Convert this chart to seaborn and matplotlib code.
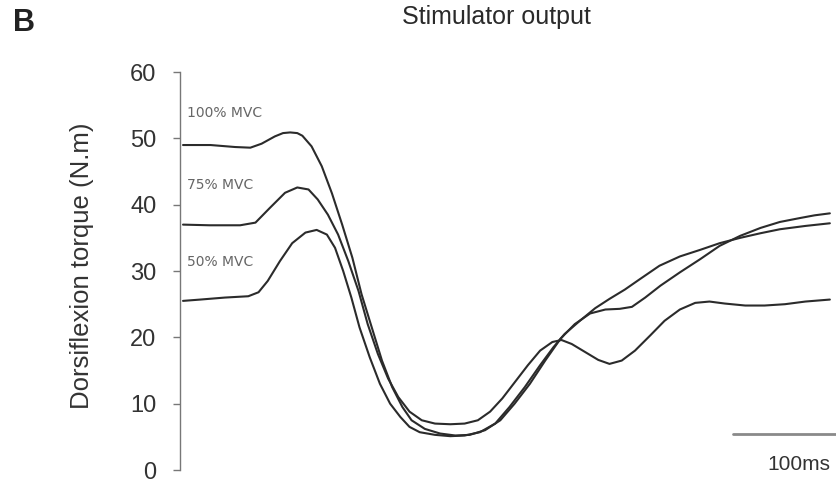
import matplotlib
matplotlib.use("Agg")
import matplotlib.pyplot as plt
import pandas as pd
import seaborn as sns

# time (ms) and dorsiflexion torque (N.m)
t_100 = [0, 27, 51, 66, 77, 90, 98, 105, 112, 117, 126, 136, 146, 156, 166, 175, 185, 195, 205, 215, 224, 237,
         252, 267, 281, 296, 311, 325, 340, 355, 370, 384, 399, 414, 428, 440, 453, 468, 487, 507, 526, 546,
         566, 585, 605, 619, 634]
v_100 = [49.0, 49.0, 48.7, 48.6, 49.2, 50.3, 50.8, 50.9, 50.8, 50.4, 48.8, 45.8, 41.7, 37.0, 32.0, 26.5, 21.5, 16.5, 12.5, 9.5, 7.5, 6.2,
         5.5, 5.2, 5.3, 6.0, 7.5, 10.0, 13.0, 16.5, 19.8, 22.0, 23.6, 24.2, 24.3, 24.6, 26.0, 27.8, 29.8, 31.8, 33.8, 35.3,
         36.5, 37.4, 38.0, 38.4, 38.7]

t_75 = [0, 26, 56, 71, 85, 100, 112, 123, 132, 142, 152, 162, 172, 181, 191, 201, 211, 222, 234, 247,
        262, 276, 289, 301, 313, 325, 338, 350, 362, 371, 381, 394, 407, 418, 430, 443, 458, 472, 487, 502,
        516, 531, 551, 570, 590, 610, 634]
v_75 = [37.0, 36.9, 36.9, 37.3, 39.5, 41.8, 42.6, 42.3, 40.8, 38.5, 35.5, 31.5, 27.0, 22.0, 17.5, 13.8, 11.0, 8.8, 7.5, 7.0,
        6.9, 7.0, 7.5, 8.8, 10.8, 13.2, 15.8, 18.0, 19.3, 19.6, 19.0, 17.8, 16.6, 16.0, 16.5, 18.0, 20.3, 22.5, 24.2, 25.2,
        25.4, 25.1, 24.8, 24.8, 25.0, 25.4, 25.7]

t_50 = [0, 17, 41, 64, 74, 83, 95, 107, 120, 131, 141, 149, 157, 165, 173, 183, 193, 203, 213, 222,
        232, 247, 262, 276, 291, 306, 320, 335, 350, 363, 374, 389, 404, 418, 433, 448, 467, 487, 507, 526,
        546, 566, 585, 610, 634]
v_50 = [25.5, 25.7, 26.0, 26.2, 26.8, 28.5, 31.5, 34.2, 35.8, 36.2, 35.5, 33.5, 30.0, 26.0, 21.5, 17.0, 13.0, 10.0, 8.0, 6.5,
        5.7, 5.3, 5.1, 5.2, 5.7, 7.0, 9.5, 12.5, 15.8, 18.5, 20.5, 22.5, 24.4, 25.8, 27.2, 28.8, 30.8, 32.2, 33.2, 34.2,
        35.0, 35.7, 36.3, 36.8, 37.2]

labels = ["100% MVC", "75% MVC", "50% MVC"]
label_y = [53.8, 43.0, 31.4]
y_ticks = [0, 10, 20, 30, 40, 50, 60]
scale_ms = [539, 641]

df = pd.concat([
    pd.DataFrame({"time": t_100, "torque": v_100, "level": labels[0]}),
    pd.DataFrame({"time": t_75, "torque": v_75, "level": labels[1]}),
    pd.DataFrame({"time": t_50, "torque": v_50, "level": labels[2]}),
])

sns.set_style("white")
plt.rcParams["font.family"] = ["Liberation Sans", "DejaVu Sans"]

fig = plt.figure(figsize=(8.37, 4.87), dpi=100)
ax = fig.add_axes([0.215, 0.0349, 0.785, 0.8171])

sns.lineplot(data=df, x="time", y="torque", units="level", estimator=None,
             color="#2b2b2b", linewidth=1.5, sort=False, ax=ax)

for lab, y in zip(labels, label_y):
    ax.text(4, y, lab, fontsize=10, family="DejaVu Sans", color="#666666", va="center", ha="left")

# scale bar
ax.plot(scale_ms, [5.5, 5.5], color="#8a8a8a", linewidth=2, clip_on=False)
ax.text(604, 0.8, "100ms", fontsize=15, color="#333333", ha="center", va="center")

ax.set_xlim(-3, 641)
ax.set_ylim(0, 60)
ax.set_yticks(y_ticks)
ax.set_xticks([])
ax.set_xlabel("")
ax.set_ylabel("Dorsiflexion torque (N.m)", fontsize=18.5, color="#333333")
ax.yaxis.set_label_coords(-0.131, 0.513)
ax.tick_params(axis="y", left=True, length=5, width=1, color="#777777",
               labelsize=17, labelcolor="#333333", pad=12)

sns.despine(ax=ax, bottom=True)
ax.spines["left"].set_color("#777777")
ax.spines["left"].set_linewidth(1)

fig.text(0.593, 0.966, "Stimulator output", fontsize=18, color="#2a2a2a", ha="center", va="center")
fig.text(0.029, 0.952, "B", fontsize=22, fontweight="bold", color="#222222", ha="center", va="center")

fig.savefig("out.png", dpi=100)
